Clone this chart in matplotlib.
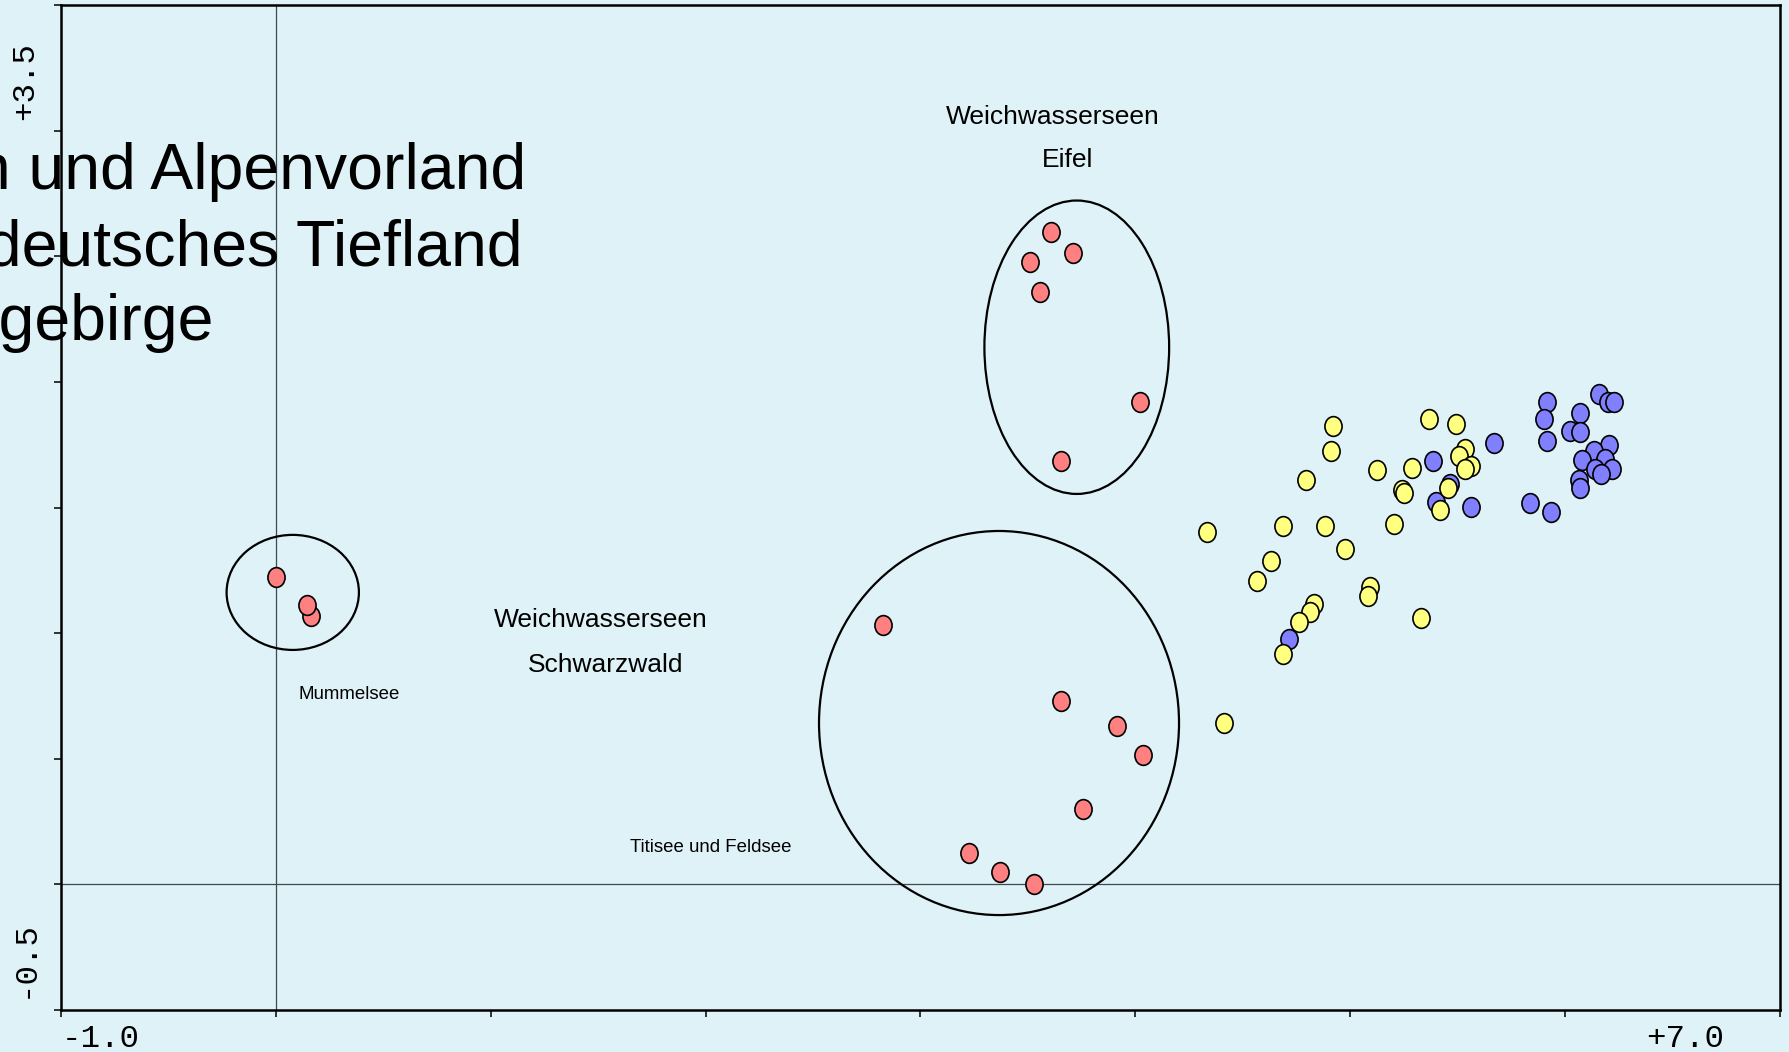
import matplotlib
matplotlib.use("Agg")
import matplotlib.pyplot as plt
from matplotlib.patches import Ellipse
from matplotlib.path import Path
from matplotlib.transforms import Affine2D

# Lake scores on the first two ordination axes
mittelgebirge_x = [0.164, 0.146, 0.000,
                   3.607, 3.712, 3.510, 3.557, 4.024, 3.655,
                   2.825, 3.655, 3.917, 4.035, 3.758, 3.225, 3.372, 3.529]
mittelgebirge_y = [1.068, 1.111, 1.225,
                   2.596, 2.514, 2.476, 2.358, 1.921, 1.686,
                   1.032, 0.730, 0.631, 0.515, 0.301, 0.126, 0.048, 0.000]

tiefland_x = [4.920, 4.912, 4.794, 4.336, 4.687, 4.882, 4.978, 4.631, 4.568,
              4.834, 4.814, 4.763, 4.687, 5.095, 5.085, 5.329, 5.203, 5.126,
              5.290, 5.242, 5.253, 5.366, 5.494, 5.535, 5.507, 5.562, 5.535,
              5.458, 5.418, 4.413]
tiefland_y = [1.824, 1.725, 1.608, 1.404, 1.425, 1.425, 1.335, 1.287, 1.207,
              1.115, 1.083, 1.043, 0.916, 1.182, 1.149, 1.061, 1.434, 1.648,
              1.656, 1.570, 1.557, 1.852, 1.834, 1.732, 1.705, 1.665, 1.653,
              1.579, 1.490, 0.644]

alpen_x = [4.717, 5.388, 5.466, 5.399, 5.563, 5.672, 5.838, 5.936, 5.916,
           5.905, 5.916, 6.159, 6.200, 6.229, 6.069, 6.023, 6.071, 6.207,
           6.137, 6.082, 6.187, 6.218, 6.141, 6.170, 6.068, 6.069]
alpen_y = [0.975, 1.686, 1.592, 1.521, 1.503, 1.756, 1.519, 1.481, 1.921,
           1.854, 1.765, 1.952, 1.919, 1.920, 1.875, 1.805, 1.802, 1.748,
           1.725, 1.688, 1.692, 1.653, 1.652, 1.633, 1.610, 1.579]

legend_labels = ["Alpen und Alpenvorland", "Norddeutsches Tiefland", "Mittelgebirge"]

# Group outlines: (centre x, centre y, width, height)
groups = [
    (0.078, 1.162, 0.616, 0.458),   # Mummelsee
    (3.728, 2.138, 0.860, 1.168),   # Eifel
    (3.366, 0.642, 1.676, 1.529),   # Schwarzwald
]

x_min, x_max = -1.0, 7.0
y_min, y_max = -0.5, 3.5

bg = "#dff2f7"
red = "#ff8080"
yellow = "#ffff80"
blue = "#8080ff"

fig = plt.figure(figsize=(17.9, 10.52), dpi=100, facecolor=bg)
ax = fig.add_axes([0.03419, 0.04002, 0.96000, 0.95513], facecolor=bg)
ax.set_xlim(x_min, x_max)
ax.set_ylim(y_min, y_max)

ax.set_xticks([x_min + i for i in range(9)])
ax.set_yticks([y_min + 0.5 * i for i in range(9)])
ax.set_xticklabels([])
ax.set_yticklabels([])
ax.tick_params(direction="out", length=5, width=1.1, color="black")
for sp in ax.spines.values():
    sp.set_linewidth(1.8)
    sp.set_color("black")

# Origin cross-hairs
ax.axvline(0, color="#404a4e", lw=0.9, zorder=1)
ax.axhline(0, color="#404a4e", lw=0.9, zorder=1)

# Slightly tall elliptical marker
dot = Path.unit_circle().transformed(Affine2D().scale(0.87, 1.0))
mk = dict(marker=dot, markersize=14.2, markeredgecolor="black",
          markeredgewidth=1.2, linestyle="none", zorder=3)
ax.plot(alpen_x, alpen_y, markerfacecolor=blue, **mk)
ax.plot(tiefland_x, tiefland_y, markerfacecolor=yellow, **mk)
ax.plot(mittelgebirge_x, mittelgebirge_y, markerfacecolor=red, **mk)

for cx, cy, w, h in groups:
    ax.add_patch(Ellipse((cx, cy), w, h, fill=False, edgecolor="black",
                         lw=1.6, zorder=2))

lab = dict(family="Liberation Sans", color="black", ha="center", va="center")
ax.text(3.616, 3.053, "Weichwasserseen", fontsize=19, **lab)
ax.text(3.683, 2.884, "Eifel", fontsize=19, **lab)
ax.text(1.511, 1.053, "Weichwasserseen", fontsize=19, **lab)
ax.text(1.536, 0.872, "Schwarzwald", fontsize=19, **lab)
ax.text(0.339, 0.757, "Mummelsee", fontsize=13.4, **lab)
ax.text(2.025, 0.148, "Titisee und Feldsee", fontsize=13.4, **lab)

# Axis end labels
mono = dict(family="Liberation Mono", fontsize=23.4, color="black")
fig.text(61.5 / 1790, 1 - 1039 / 1052, "-1.0", ha="left", va="center", **mono)
fig.text(1724 / 1790, 1 - 1039 / 1052, "+7.0", ha="right", va="center", **mono)
fig.text(25 / 1790, 1 - 959.5 / 1052, "-0.5", ha="center", va="center",
         rotation=90, **mono)
fig.text(25 / 1790, 1 - 80.8 / 1052, "+3.5", ha="center", va="center",
         rotation=90, **mono)

# Region legend text
for i, name in enumerate(legend_labels):
    base = [189, 265, 340][i]
    fig.text(-154 / 1790, 1 - base / 1052, name, ha="left", va="baseline",
             family="Liberation Sans", fontsize=46.4, color="black")

fig.savefig("out.png", dpi=100, facecolor=bg)
